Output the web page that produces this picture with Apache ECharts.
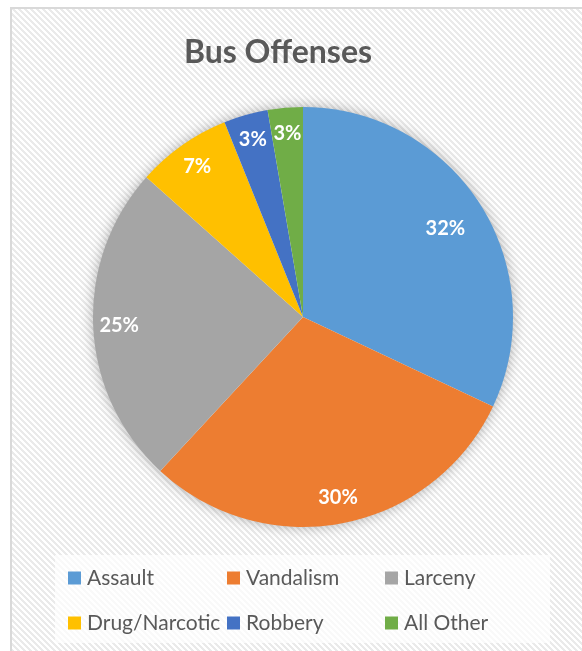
<!DOCTYPE html>
<html lang="en">
<head>
    <meta charset="UTF-8">
    <title>Bus Offenses</title>
    <script src="https://cdn.jsdelivr.net/npm/echarts@6/dist/echarts.min.js"></script>
    <style>
        html, body { margin: 0; padding: 0; background: #fff; overflow: hidden; }
        #main {
            position: absolute; left: 10px; top: 7px;
            width: 580px; height: 650px;
            border-top: 2px solid #d9d9d9; border-left: 2px solid #d9d9d9;
        }
    </style>
</head>
<body>
    <div id="main"></div>

    <script type="text/javascript">
        // data (share of offenses, %)
        var categories = ['Assault', 'Vandalism', 'Larceny', 'Drug/Narcotic', 'Robbery', 'All Other'];
        var values = [32.0, 29.9, 24.7, 7.3, 3.4, 2.7];
        var colors = ['#5B9BD5', '#ED7D31', '#A5A5A5', '#FFC000', '#4472C4', '#70AD47'];

        // striped background tile
        var tile = document.createElement('canvas');
        tile.width = 6; tile.height = 6;
        var ctx = tile.getContext('2d');
        for (var x = 0; x < 6; x++) {
            for (var y = 0; y < 6; y++) {
                ctx.fillStyle = (((x - y) % 6 + 6) % 6) < 3 ? '#eaeaea' : '#ffffff';
                ctx.fillRect(x, y, 1, 1);
            }
        }

        var pieData = [];
        var labelData = [];
        for (var i = 0; i < categories.length; i++) {
            pieData.push({ name: categories[i], value: values[i] });
            labelData.push({ name: categories[i], value: values[i] });
        }
        // Excel nudged the first label a little toward the centre
        labelData[0].label = { offset: [-13, 10] };

        var center = [291, 308];
        var chart = echarts.init(document.getElementById('main'));

        var option = {
            backgroundColor: { image: tile, repeat: 'repeat' },
            color: colors,
            animation: false,
            title: {
                text: 'Bus Offenses',
                left: 261,
                textAlign: 'center',
                top: 23,
                textStyle: { fontFamily: 'Lato', fontWeight: 'bold', fontSize: 32, color: '#595959' }
            },
            graphic: [{
                type: 'rect',
                left: 43, top: 546,
                shape: { width: 495, height: 88 },
                style: { fill: 'rgba(255,255,255,0.7)' },
                silent: true,
                z: 0
            }],
            legend: [
                { data: ['Assault', 'Drug/Narcotic'], left: 51 },
                { data: ['Vandalism', 'Robbery'], left: 210 },
                { data: ['Larceny', 'All Other'], left: 368 }
            ].map(function (l) {
                return {
                    data: l.data, left: l.left, top: 552,
                    orient: 'vertical', itemGap: 21,
                    icon: 'rect', itemWidth: 13, itemHeight: 13,
                    selectedMode: false,
                    textStyle: { fontFamily: 'Lato', fontSize: 21, color: '#595959', lineHeight: 24, padding: [0, 0, 0, 1] }
                };
            }),
            series: [
                {
                    // soft shadow behind the pie
                    type: 'pie', center: center, radius: [0, 209],
                    silent: true, z: 1,
                    label: { show: false }, labelLine: { show: false },
                    itemStyle: { color: '#ffffff', shadowBlur: 14, shadowColor: 'rgba(0,0,0,0.35)' },
                    data: [{ name: '_bg', value: 1 }]
                },
                {
                    name: 'Bus Offenses', type: 'pie', center: center, radius: [0, 210],
                    startAngle: 90, clockwise: true, z: 2,
                    silent: true,
                    label: { show: false }, labelLine: { show: false },
                    data: pieData
                },
                {
                    // transparent ring that carries the percentage labels
                    type: 'pie', center: center, radius: [152, 210],
                    startAngle: 90, clockwise: true, z: 3,
                    silent: true,
                    itemStyle: { color: 'rgba(0,0,0,0)' },
                    label: {
                        show: true, position: 'inside',
                        formatter: function (p) { return Math.round(p.percent) + '%'; },
                        fontFamily: 'Lato', fontWeight: 'bold', fontSize: 20, color: '#ffffff'
                    },
                    labelLine: { show: false },
                    data: labelData
                }
            ]
        };

        chart.setOption(option);
    </script>
</body>
</html>
